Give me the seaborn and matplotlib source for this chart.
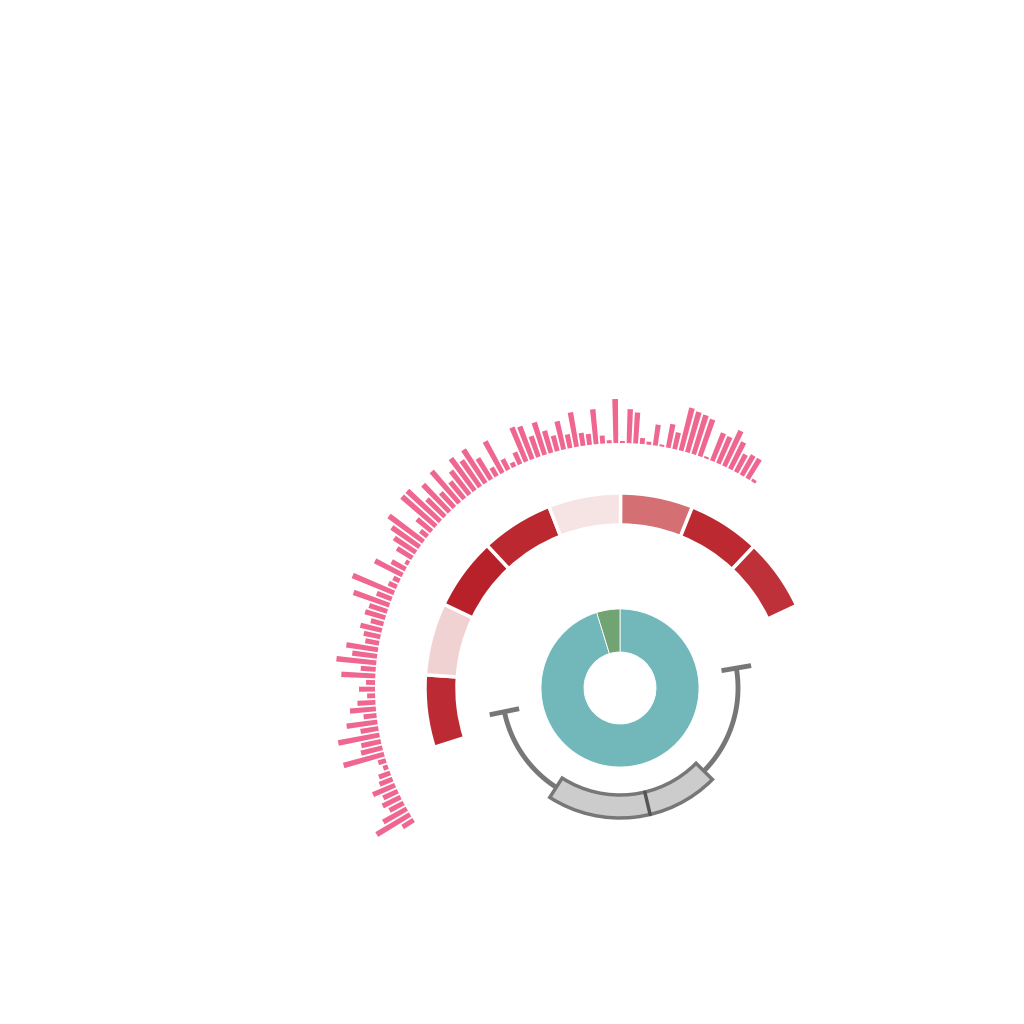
import numpy as np
import matplotlib
matplotlib.use("Agg")
import matplotlib.pyplot as plt
import seaborn as sns

# outer pink spikes, listed clockwise (starting bottom-left)
spike_values = [13, 39, 27, 16, 20, 16, 24, 14, 12, 5, 8, 42, 22, 20, 42, 18, 31,
                13, 26, 18, 8, 16, 9, 34, 15, 40, 25, 32, 14, 17, 22, 13,
                21, 19, 38, 16, 45, 9, 7, 31, 16, 4, 18, 26, 34, 43, 9, 19, 45, 45,
                25,
                38, 20, 42, 22, 30, 40, 32, 40, 25, 10, 36, 12, 5, 13,
                37, 35, 22, 34, 23, 16, 29, 14, 35, 13, 11, 35, 8, 3, 44,
                2, 34, 31, 6, 3, 21, 2, 24, 17, 44, 42, 41, 39, 2, 30, 29, 39, 30, 20, 23, 23, 3]

# red ring cells (0 = lightest, 100 = darkest), clockwise
ring_values = [92, 8, 98, 94, 0, 50, 93, 88]

# inner donut
donut_labels = ["main", "other"]
donut_values = [20, 1]

# polar box plot on the angle axis (degrees): min, q1, median, q3, max
box_stats = [80.3, 134.7, 166.6, 212.7, 258.4]

spike_start, spike_end = 237.4, 392.9
ring_start, ring_step = 252.3, 21.58

sns.set_theme(style="white")

fig = plt.figure(figsize=(10.24, 10.24), dpi=100)
R = 300
cx, cy = 620, 688
ax = fig.add_axes([(cx - R) / 1024, (1024 - cy - R) / 1024, 2 * R / 1024, 2 * R / 1024],
                  projection="polar")
ax.set_theta_zero_location("N")
ax.set_theta_direction(-1)

# spikes
ang = np.linspace(spike_start, spike_end, len(spike_values))
ax.bar(np.deg2rad(ang), spike_values, width=np.deg2rad(1.12), bottom=245,
       color="#ef6690", linewidth=0)

# ring
cmap = sns.blend_palette(["#f6e4e5", "#d46f74", "#b81e27"], as_cmap=True)
centers = ring_start + ring_step * (np.arange(len(ring_values)) + 0.5)
ax.bar(np.deg2rad(centers), 32, width=np.deg2rad(ring_step), bottom=163,
       color=[cmap(v / 100) for v in ring_values], edgecolor="white", linewidth=2.5)

# donut
fr = np.array(donut_values) / sum(donut_values) * 360
starts = np.concatenate([[0], np.cumsum(fr)[:-1]])
ax.bar(np.deg2rad(starts + fr / 2), 43, width=np.deg2rad(fr), bottom=36,
       color=["#72b8bb", "#72a373"], edgecolor="white", linewidth=0.6)

# box plot
lo, q1, med, q3, hi = box_stats
gray = "#777777"
for a, b in [(lo, q1), (q3, hi)]:
    t = np.deg2rad(np.linspace(a, b, 80))
    ax.plot(t, np.full_like(t, 118), color=gray, lw=3.5, solid_capstyle="butt")
for a in (lo, hi):
    ax.plot([np.deg2rad(a)] * 2, [103, 133], color=gray, lw=3.5, solid_capstyle="butt")
ax.bar(np.deg2rad((q1 + q3) / 2), 23, width=np.deg2rad(q3 - q1), bottom=107,
       color="#cccccc", edgecolor=gray, linewidth=2.5)
ax.plot([np.deg2rad(med)] * 2, [107, 130], color="#555555", lw=2.5)

ax.set_ylim(0, R)
ax.axis("off")

fig.savefig("out.png", dpi=100)
plt.close(fig)
